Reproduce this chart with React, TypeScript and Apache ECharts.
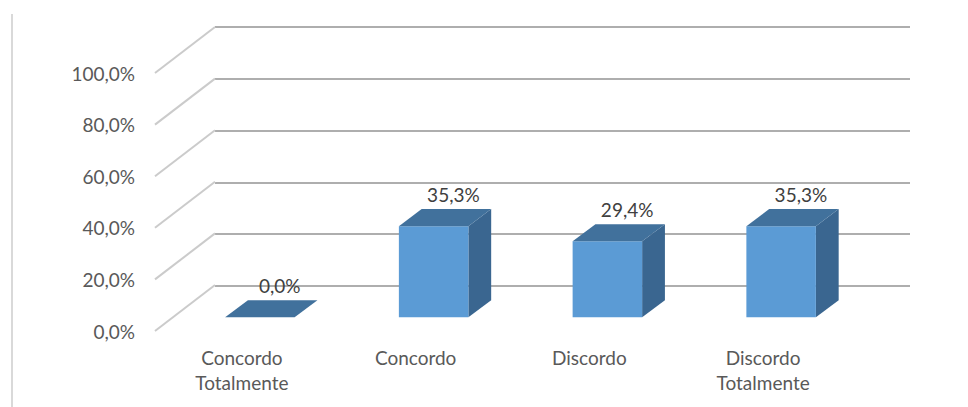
import React, { useEffect, useRef } from "react";
import * as echarts from "echarts";

const categories = ["Concordo\nTotalmente", "Concordo", "Discordo", "Discordo\nTotalmente"];
const values = [0.0, 0.353, 0.294, 0.353];
const yTicks = [0, 0.2, 0.4, 0.6, 0.8, 1.0];

const DEPTH_X = 60;
const DEPTH_Y = -46;
const FONT = "Lato, 'Open Sans', sans-serif";
const TEXT_COLOR = "#595959";

const fmt = (v: number) => (v * 100).toFixed(1).replace(".", ",") + "%";

export default function App() {
  const ref = useRef<HTMLDivElement>(null);
  useEffect(() => {
    if (!ref.current) return;
    const chart = echarts.init(ref.current, undefined, { renderer: "svg" });
    chart.setOption({
      animation: false,
      backgroundColor: "#ffffff",
      graphic: [
        {
          type: "line",
          shape: { x1: 12, y1: 14, x2: 12, y2: 407 },
          style: { stroke: "#d9d9d9", lineWidth: 2 },
          silent: true,
        },
      ],
      grid: [
        { left: 215, right: 58, top: 27, bottom: 121 },
        { left: 155, right: 118, top: 73, bottom: 76 },
      ],
      xAxis: [
        { type: "value", gridIndex: 0, show: false, min: 0, max: 1 },
        {
          type: "category",
          gridIndex: 1,
          data: categories,
          axisLine: { show: false },
          axisTick: { show: false },
          axisLabel: {
            margin: 14,
            color: TEXT_COLOR,
            fontFamily: FONT,
            fontSize: 19,
            lineHeight: 25,
            interval: 0,
          },
        },
      ],
      yAxis: [
        {
          type: "value",
          gridIndex: 0,
          min: 0,
          max: 1,
          interval: 0.2,
          axisLine: { show: false },
          axisTick: { show: false },
          axisLabel: { show: false },
          splitLine: { show: true, lineStyle: { color: "#aeaeae", width: 2 } },
        },
        {
          type: "value",
          gridIndex: 1,
          min: 0,
          max: 1,
          interval: 0.2,
          axisLine: { show: false },
          axisTick: { show: false },
          splitLine: { show: false },
          axisLabel: {
            margin: 20,
            color: TEXT_COLOR,
            fontFamily: FONT,
            fontSize: 19,
            formatter: (v: number) => fmt(v),
          },
        },
      ],
      series: [
        {
          type: "custom",
          name: "diagonals",
          xAxisIndex: 1,
          yAxisIndex: 1,
          silent: true,
          data: yTicks.map((t) => [0, t]),
          renderItem: (params: any, api: any) => {
            const y = api.coord([0, api.value(1)])[1];
            const x = params.coordSys.x;
            return {
              type: "line",
              shape: { x1: x, y1: y, x2: x + DEPTH_X, y2: y + DEPTH_Y },
              style: { stroke: "#cbcbcb", lineWidth: 2 },
            };
          },
        },
        {
          type: "custom",
          name: "bars",
          xAxisIndex: 1,
          yAxisIndex: 1,
          data: values.map((v, i) => [i, v]),
          renderItem: (params: any, api: any) => {
            const idx = api.value(0);
            const v = api.value(1);
            const base = api.coord([idx, 0]);
            const top = api.coord([idx, v]);
            const band = api.size([1, 0])[0];
            const w = band * 0.4;
            const offX = DEPTH_X * 0.3;
            const offY = DEPTH_Y * 0.3;
            const dx = DEPTH_X * 0.38;
            const dy = DEPTH_Y * 0.37;
            const x0 = base[0] + offX - w / 2;
            const x1 = x0 + w;
            const yB = base[1] + offY;
            const yT = top[1] + offY;
            const children: any[] = [];
            if (yB - yT > 0.5) {
              children.push({
                type: "polygon",
                shape: { points: [[x1, yT], [x1 + dx, yT + dy], [x1 + dx, yB + dy], [x1, yB]] },
                style: { fill: "#3a6690" },
              });
              children.push({
                type: "rect",
                shape: { x: x0, y: yT, width: w, height: yB - yT },
                style: { fill: "#5b9bd5" },
              });
            }
            children.push({
              type: "polygon",
              shape: { points: [[x0, yT], [x1, yT], [x1 + dx, yT + dy], [x0 + dx, yT + dy]] },
              style: { fill: "#41719c" },
            });
            children.push({
              type: "text",
              style: {
                text: fmt(v),
                x: x0 + w / 2 + dx - 3,
                y: yT + dy - 15,
                align: "center",
                verticalAlign: "middle",
                fill: "#404040",
                font: `19px ${FONT}`,
              },
            });
            return { type: "group", children };
          },
        },
      ],
    });
    return () => chart.dispose();
  }, []);
  return (
    <div
      ref={ref}
      style={{ position: "absolute", left: 0, top: 0, width: 968, height: 407 }}
    />
  );
}
